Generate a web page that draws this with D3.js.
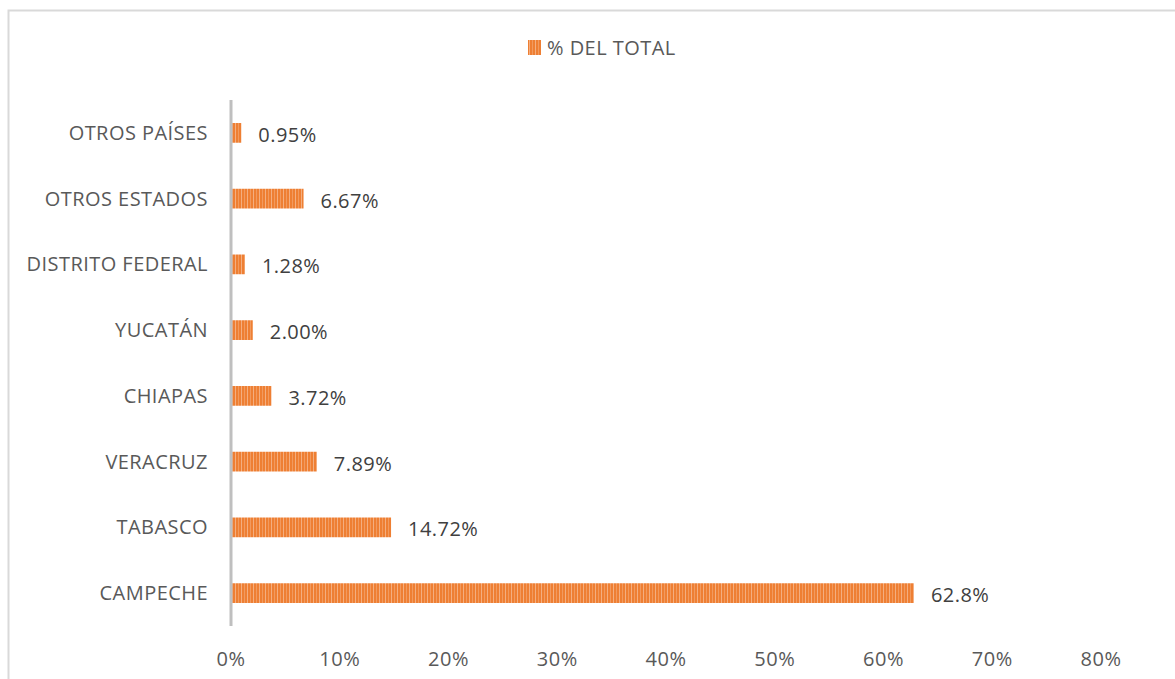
<!DOCTYPE html>
<html><head><meta charset="utf-8">
<script src="https://cdn.jsdelivr.net/npm/d3@7"></script>
<style>body{margin:0;background:#fff}svg{display:block}text{font-family:"Open Sans","Liberation Sans",sans-serif;letter-spacing:0.45px}</style>
</head><body>
<svg id="c" width="1175" height="679"></svg>
<script>
const categories = ["CAMPECHE","TABASCO","VERACRUZ","CHIAPAS","YUCATÁN","DISTRITO FEDERAL","OTROS ESTADOS","OTROS PAÍSES"];
const values = [62.8, 14.72, 7.89, 3.72, 2.00, 1.28, 6.67, 0.95];
const valueLabels = ["62.8%","14.72%","7.89%","3.72%","2.00%","1.28%","6.67%","0.95%"];
const xTicks = [0,10,20,30,40,50,60,70,80];
const seriesName = "% DEL TOTAL";

const svg = d3.select("#c");
svg.append("path").attr("d","M8.5,700 V10.5 H1200").attr("fill","none").attr("stroke","#d9d9d9").attr("stroke-width",2);

const defs = svg.append("defs");
const pat = defs.append("pattern").attr("id","stripes").attr("patternUnits","userSpaceOnUse").attr("width",6).attr("height",10);
pat.append("rect").attr("width",6).attr("height",10).attr("fill","#ee7f33");
pat.append("rect").attr("x",1).attr("width",1).attr("height",10).attr("fill","#f4ae7f");
pat.append("rect").attr("x",4).attr("width",1).attr("height",10).attr("fill","#f29a5e");

const x = d3.scaleLinear().domain([0,80]).range([231,1101]);
const y = d3.scaleBand().domain(categories.slice().reverse()).range([100,626]).paddingInner(0.7).paddingOuter(0.35);

const data = categories.map((c,i)=>({c,v:values[i],l:valueLabels[i]}));
svg.append("g").selectAll("rect").data(data).join("rect")
  .attr("x",x(0)).attr("y",d=>y(d.c)).attr("width",d=>x(d.v)-x(0)).attr("height",y.bandwidth())
  .attr("fill","url(#stripes)");

svg.append("line").attr("x1",x(0)).attr("x2",x(0)).attr("y1",100).attr("y2",626).attr("stroke","#bfbfbf").attr("stroke-width",3);

svg.append("g").selectAll("text").data(categories).join("text")
  .attr("x",208).attr("y",d=>y(d)+y.bandwidth()/2).attr("dy","0.35em").attr("text-anchor","end")
  .attr("font-size",20).attr("fill","#595959").text(d=>d);

svg.append("g").selectAll("text").data(data).join("text")
  .attr("x",d=>x(d.v)+17).attr("y",d=>y(d.c)+y.bandwidth()/2+2).attr("dy","0.35em")
  .attr("font-size",20).attr("fill","#404040").text(d=>d.l);

svg.append("g").selectAll("text").data(xTicks).join("text")
  .attr("x",d=>x(d)).attr("y",659).attr("dy","0.35em").attr("text-anchor","middle")
  .attr("font-size",20).attr("fill","#595959").text(d=>d+"%");

svg.append("rect").attr("x",528).attr("y",40).attr("width",13).attr("height",15).attr("fill","url(#stripes)");
svg.append("text").attr("x",547).attr("y",48).attr("dy","0.35em").attr("font-size",20).attr("fill","#595959").text(seriesName);
</script>
</body></html>
